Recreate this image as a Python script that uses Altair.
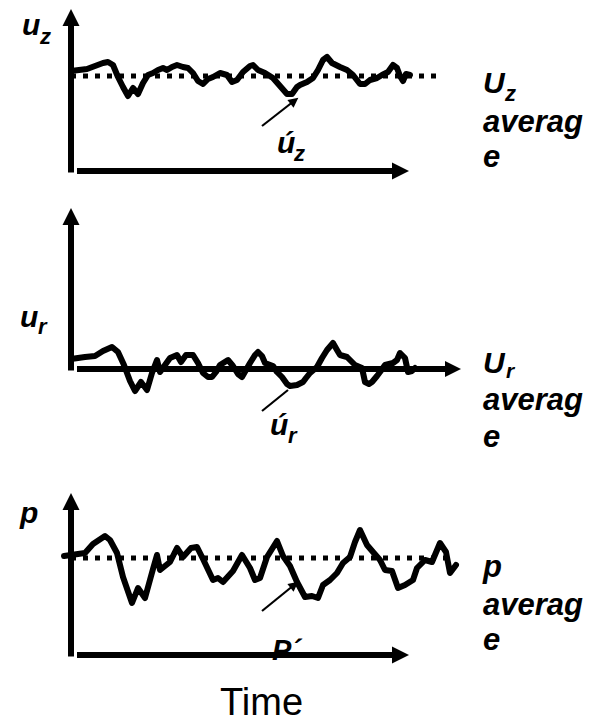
import altair as alt
import pandas as pd

# ---------------------------------------------------------------------------
# Signals: time t (from the origin of each time axis) and height v above the
# time axis, in drawing units.
# ---------------------------------------------------------------------------
UZ_T = [0, 16, 32, 37, 42, 47, 52, 57, 62, 67, 72, 77, 82, 87, 92, 96, 101, 106,
        112, 117, 122, 127, 132, 137, 142, 149, 156, 161, 166, 172, 179, 182, 187,
        194, 202, 209, 216, 221, 226, 229, 236, 242, 247, 252, 256, 261, 269, 276,
        282, 289, 294, 299, 306, 311, 317, 322, 326, 329, 332, 335, 339]
UZ_V = [100, 102, 108, 109, 106, 94, 84, 75, 83, 77, 88, 96, 98, 101, 103, 101, 104, 106,
        104, 103, 98, 90, 87, 92, 94, 98, 96, 89, 91, 99, 105, 106, 101,
        98, 93, 85, 77, 77, 84, 86, 89, 93, 101, 111, 114, 108, 104, 101,
        96, 87, 87, 91, 93, 96, 99, 106, 103, 95, 90, 97, 96]
UZ_MEAN = 95

UR_T = [0, 14, 24, 32, 41, 47, 53, 59, 64, 70, 76, 81, 86, 89, 94, 99, 106, 110,
        115, 122, 127, 132, 137, 141, 145, 149, 157, 162, 167, 171, 175, 179, 184,
        187, 191, 194, 202, 206, 211, 216, 219, 226, 232, 235, 239, 246, 251, 256,
        262, 266, 269, 276, 281, 284, 291, 294, 298, 301, 306, 309, 314, 322, 326,
        329, 334, 337, 341, 344]
UR_V = [10, 12, 13, 18, 22, 17, 4, -12, -22, -13, -21, -4, 9, -3, 4, 11, 14, 7,
        14, 14, 6, -4, -8, -8, -3, 4, 9, 3, -5, -8, -1, 6, 14,
        17, 13, 6, 3, -3, -8, -15, -17, -16, -13, -9, -4, 2, 11, 19,
        26, 19, 14, 12, 7, 4, 1, -13, -15, -13, -7, -3, 4, 6, 9,
        16, 11, -3, -2, 1]

P_T = [-7, 14, 22, 34, 39, 46, 52, 61, 67, 74, 82, 86, 89, 99, 106, 112, 120, 126,
       132, 142, 147, 152, 162, 171, 179, 184, 189, 196, 206, 212, 219, 226, 234,
       241, 247, 252, 259, 266, 272, 279, 284, 289, 296, 302, 309, 314, 321, 327,
       334, 342, 346, 354, 361, 369, 375, 379, 385]
P_V = [99, 102, 111, 119, 115, 102, 78, 52, 67, 57, 86, 100, 85, 93, 107, 98, 107, 108,
       96, 75, 77, 73, 84, 100, 87, 75, 77, 98, 114, 99, 89, 73, 58,
       59, 57, 70, 75, 82, 92, 98, 113, 125, 110, 103, 95, 85, 84, 67,
       70, 75, 87, 95, 93, 112, 103, 82, 90]
P_MEAN = 97

FONT = "Liberation Sans"
INK = "black"
W = 603


def sc(domain):
    return alt.Scale(domain=domain, nice=False, zero=False)


def panel(height, ydom, signal, mean, mean_end, yaxis_top, xaxis_end, head_w,
          pointer, pointer_head, labels, plain_labels=None):
    xd = [-71, W - 71]

    def xy(xf="t", yf="v"):
        return dict(x=alt.X(f"{xf}:Q", scale=sc(xd), axis=None),
                    y=alt.Y(f"{yf}:Q", scale=sc(ydom), axis=None))

    layers = []

    # labels drawn first so that axes and curves sit on top of them
    lab = pd.DataFrame(labels, columns=["t", "v", "text", "fs"])
    layers.append(
        alt.Chart(lab).mark_text(align="left", baseline="alphabetic", font=FONT,
                                 fontStyle="italic", fontWeight="bold", color=INK)
        .encode(**xy(), text="text:N", size=alt.Size("fs:Q", scale=None))
    )
    if plain_labels:
        pl = pd.DataFrame(plain_labels, columns=["t", "v", "text", "fs"])
        layers.append(
            alt.Chart(pl).mark_text(align="left", baseline="alphabetic", font=FONT,
                                    color=INK)
            .encode(**xy(), text="text:N", size=alt.Size("fs:Q", scale=None))
        )

    # dotted time-average level
    if mean is not None:
        m = pd.DataFrame({"t": [0, mean_end], "v": [mean, mean]})
        layers.append(
            alt.Chart(m).mark_line(color=INK, strokeWidth=5, strokeDash=[5, 7])
            .encode(**xy())
        )

    # pointer from the fluctuation label to the curve
    p = pd.DataFrame([pointer], columns=["t", "v", "t2", "v2"])
    layers.append(
        alt.Chart(p).mark_rule(color=INK, strokeWidth=2.2)
        .encode(**xy(), x2="t2:Q", y2="v2:Q")
    )
    if pointer_head is not None:
        ph = pd.DataFrame([pointer_head], columns=["t", "v"])
        layers.append(
            alt.Chart(ph).mark_point(shape="M1,0L-1,-1L-1,1Z", filled=True, size=100,
                                     angle=322, color=INK, opacity=1, strokeWidth=0)
            .encode(**xy())
        )

    # axes: vertical quantity axis and horizontal time axis with arrowheads
    ax = pd.DataFrame({"t": [0, 6], "v": [-1.5, 0], "t2": [0, xaxis_end - head_w],
                       "v2": [yaxis_top - 17, 0]})
    layers.append(
        alt.Chart(ax).mark_rule(color=INK, strokeWidth=6, strokeCap="butt")
        .encode(**xy(), x2="t2:Q", y2="v2:Q")
    )
    up = pd.DataFrame({"t": [0], "v": [yaxis_top - 8.5]})
    layers.append(
        alt.Chart(up).mark_point(shape="M0,-1L1,1L-1,1Z", filled=True, size=289,
                                 color=INK, opacity=1, strokeWidth=0)
        .encode(**xy())
    )
    rt = pd.DataFrame({"t": [xaxis_end - head_w / 2], "v": [0]})
    layers.append(
        alt.Chart(rt).mark_point(shape="M1,0L-1,-1L-1,1Z", filled=True,
                                 size=head_w * head_w, color=INK, opacity=1,
                                 strokeWidth=0)
        .encode(**xy())
    )

    # the fluctuating signal
    s = pd.DataFrame({"t": signal[0], "v": signal[1]})
    layers.append(
        alt.Chart(s).mark_line(color=INK, strokeWidth=6, strokeJoin="round",
                               strokeCap="round")
        .encode(**xy())
    )

    return alt.layer(*layers).properties(width=W, height=height)


top = panel(
    200, [-29, 171], (UZ_T, UZ_V), UZ_MEAN, 366, 162, 338, 17,
    (191, 45, 223, 70), (223.4, 70.2),
    [(-49, 136, "u", 30), (-31, 127, "z", 22),
     (412, 78, "U", 30), (434, 70, "z", 22),
     (412, 39, "averag", 31), (412, 4, "e", 31),
     (206, 18, "ú", 30), (223, 10, "z", 22)],
)

mid = panel(
    260, [-91, 169], (UR_T, UR_V), None, 0, 161, 390, 16,
    (191, -42, 217, -21), None,
    [(-51, 42, "u", 30), (-33, 35, "r", 22),
     (412, -4, "U", 30), (435, -9, "r", 21),
     (412, -41, "averag", 31), (412, -78, "e", 31),
     (199, -66, "ú", 30), (217, -74, "r", 22)],
)

bot = panel(
    262, [-67, 195], (P_T, P_V), P_MEAN, 374, 162, 338, 17,
    (191, 44, 223, 70), (223.4, 70.2),
    [(-51, 132, "p", 30),
     (412, 78, "p", 31), (412, 40, "averag", 31), (412, 5, "e", 31),
     (201, -5, "P´", 29)],
    plain_labels=[(149, -60, "Time", 38)],
)

chart = (
    alt.vconcat(top, mid, bot, spacing=0)
    .properties(padding=0, background="white")
    .configure_view(stroke=None)
)

chart.save("out.html", embed_options={"renderer": "svg", "actions": False})
